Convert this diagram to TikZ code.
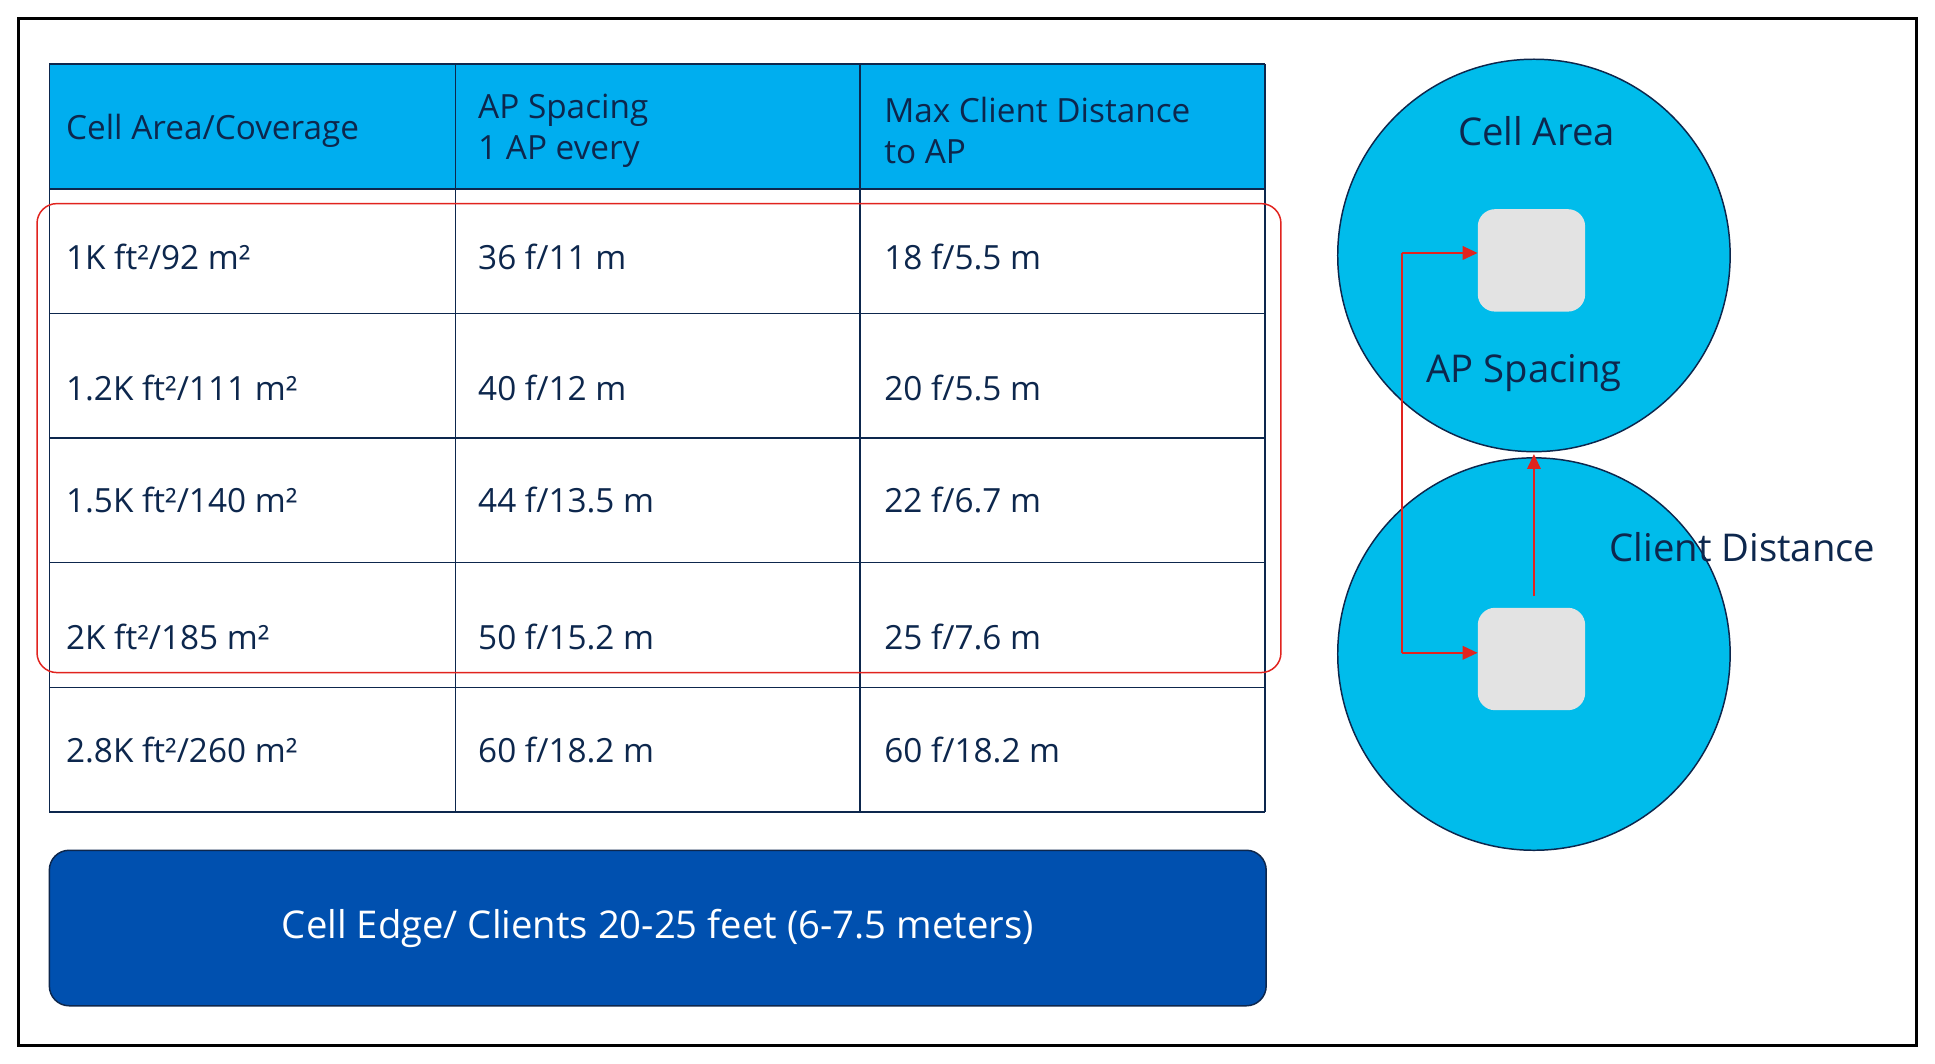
\documentclass[tikz,border=0pt]{standalone}
\usepackage{fontspec}
\setmainfont{Open Sans}
\usetikzlibrary{arrows.meta}
\definecolor{navy}{RGB}{13,39,77}
\definecolor{hdr}{RGB}{0,174,239}
\definecolor{circ}{RGB}{0,188,235}
\definecolor{bar}{RGB}{0,80,175}
\definecolor{apred}{RGB}{225,35,30}
\begin{document}
\begin{tikzpicture}[x=1pt,y=-1pt,
  cell/.style={anchor=west,text=navy,font=\fontsize{27}{33}\selectfont,align=left},
  grid/.style={navy,line width=1.2pt},
  ap/.style={draw=none,fill=gray!22,rounded corners=14pt,minimum width=87pt,minimum height=83pt},
  big/.style={text=navy,font=\fontsize{31}{36}\selectfont},
  redarrow/.style={apred,line width=1.2pt,-{Triangle[length=12pt,width=11pt]}}]
\useasboundingbox (0,0) rectangle (1568,862);
\fill[white] (0,0) rectangle (1568,862);
\draw[line width=2.5pt] (15,15) rectangle (1553,847);
% header
\fill[hdr] (40,52) rectangle (1025,153);
\foreach \y in {52,153,254,355,456,557,658} \draw[grid] (40,\y) -- (1025,\y);
\foreach \x in {40,369,697,1025} \draw[grid] (\x,52) -- (\x,658);
\node[cell] (h1) at (50,106) {Cell Area/Coverage};
\node[cell] (h2) at (384,106) {AP Spacing\\1 AP every};
\node[cell] (h3) at (713,106) {Max Client Distance\\to AP};
\node[cell] (a1) at (50,208) {1K ft²/92 m²};
\node[cell] (b1) at (384,208) {36 f/11 m};
\node[cell] (c1) at (713,208) {18 f/5.5 m};
\node[cell] (a2) at (50,314) {1.2K ft²/111 m²};
\node[cell] (b2) at (384,314) {40 f/12 m};
\node[cell] (c2) at (713,314) {20 f/5.5 m};
\node[cell] (a3) at (50,405) {1.5K ft²/140 m²};
\node[cell] (b3) at (384,405) {44 f/13.5 m};
\node[cell] (c3) at (713,405) {22 f/6.7 m};
\node[cell] (a4) at (50,516) {2K ft²/185 m²};
\node[cell] (b4) at (384,516) {50 f/15.2 m};
\node[cell] (c4) at (713,516) {25 f/7.6 m};
\node[cell] (a5) at (50,608) {2.8K ft²/260 m²};
\node[cell] (b5) at (384,608) {60 f/18.2 m};
\node[cell] (c5) at (713,608) {60 f/18.2 m};
\draw[apred,line width=1.2pt,rounded corners=16pt] (30,165) rectangle (1038,545);
% bar
\draw[navy,fill=bar,line width=1.2pt,rounded corners=16pt] (40,689) rectangle (1026,815);
\node[text=white,font=\fontsize{31}{36}\selectfont] (edge) at (533,752) {Cell Edge/ Clients 20-25 feet (6-7.5 meters)};
% circles
\node[circle,draw=navy,line width=1.2pt,fill=circ,minimum size=318pt,inner sep=0] (c1c) at (1243,207) {};
\node[circle,draw=navy,line width=1.2pt,fill=circ,minimum size=318pt,inner sep=0] (c2c) at (1243,530) {};
\node[ap] (ap1) at (1241,211) {};
\node[ap] (ap2) at (1241,534) {};
\node[big] (ca) at (1245,106) {Cell Area};
\node[big] (aps) at (1235,302) {AP Spacing};
\node[big] (cd) at (1412,443) {Client Distance};
\coordinate (k1) at (1136,205);
\coordinate (k2) at (1136,529);
\coordinate (vs) at (1243,483);
\coordinate (ve) at (1243,368);
\draw[apred,line width=1.2pt] (k1) -- (k2);
\draw[redarrow] (k1) -- (ap1.west |- k1);
\draw[redarrow] (k2) -- (ap2.west |- k2);
\draw[redarrow] (vs) -- (ve);
\end{tikzpicture}
\end{document}
